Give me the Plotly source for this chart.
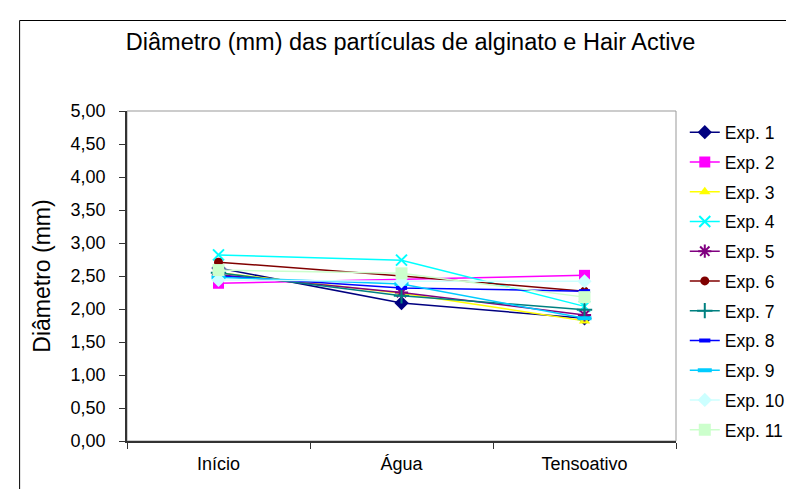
import plotly.graph_objects as go

categories = ["Início", "Água", "Tensoativo"]
series_names = ["Exp. 1", "Exp. 2", "Exp. 3", "Exp. 4", "Exp. 5", "Exp. 6",
                "Exp. 7", "Exp. 8", "Exp. 9", "Exp. 10", "Exp. 11"]
exp1 = [2.62, 2.09, 1.86]
exp2 = [2.39, 2.45, 2.51]
exp3 = [2.55, 2.24, 1.82]
exp4 = [2.82, 2.74, 2.04]
exp5 = [2.52, 2.25, 1.91]
exp6 = [2.71, 2.50, 2.27]
exp7 = [2.55, 2.20, 1.99]
exp8 = [2.50, 2.32, 2.27]
exp9 = [2.48, 2.38, 1.86]
exp10 = [2.44, 2.42, 2.42]
exp11 = [2.59, 2.54, 2.18]
values = [exp1, exp2, exp3, exp4, exp5, exp6, exp7, exp8, exp9, exp10, exp11]

colors = ["#000080", "#FF00FF", "#FFFF00", "#00FFFF", "#800080", "#800000",
          "#008080", "#0000FF", "#00CCFF", "#CCFFFF", "#CCFFCC"]
symbols = ["diamond", "square", "triangle-up", "x-thin", "asterisk", "circle",
           "cross-thin", "line-ew", "line-ew", "diamond", "square"]
sizes = [11, 11, 10, 11, 11, 9, 11, 8, 10, 11, 12]

fig = go.Figure()
for name, vals, c, s, sz in zip(series_names, values, colors, symbols, sizes):
    open_sym = s in ("x-thin", "asterisk", "cross-thin", "line-ew")
    fig.add_trace(go.Scatter(
        x=categories, y=vals, name=name, mode="lines+markers",
        legendgroup=name,
        line=dict(color=c, width=1.5),
        marker=dict(symbol=s, size=sz, color=c,
                    line=dict(color=c, width=(2 if s.startswith(("x", "a", "c")) else 4) if open_sym else 0)),
    ))

fig.update_layout(
    width=794, height=489,
    margin=dict(l=119, r=110, t=103, b=56),
    paper_bgcolor="white", plot_bgcolor="white",
    separators=",.",
    font=dict(family="Liberation Sans, Arial, sans-serif", size=18, color="black"),
    title=dict(text="Diâmetro (mm) das partículas de alginato e Hair Active",
               x=0.507, xref="container", xanchor="center",
               y=0.93, yref="container", yanchor="middle",
               font=dict(size=23.5, color="black")),
    showlegend=True,
    legend=dict(x=1.016, xanchor="left", y=0.99, yanchor="top",
                font=dict(size=17.5), tracegroupgap=4,
                bgcolor="rgba(0,0,0,0)", itemwidth=30),
    xaxis=dict(type="category", range=[-0.5, 2.5], showline=True,
               linecolor="#333333", linewidth=1.5,
               ticks="outside", ticklen=6, tickcolor="#333333", tickson="boundaries",
               showgrid=False, mirror=False, zeroline=False,
               ticklabelstandoff=6, tickfont=dict(size=18)),
    yaxis=dict(range=[0, 5], dtick=0.5, tickformat=".2f", showline=True,
               linecolor="#333333", linewidth=1.5, ticks="outside", ticklen=6,
               tickcolor="#333333", showgrid=False, zeroline=False,
               ticklabelstandoff=10,
               title=dict(text="Diâmetro (mm)", font=dict(size=23), standoff=14),
               tickfont=dict(size=18)),
    shapes=[
        dict(type="rect", xref="paper", yref="paper", x0=0, x1=1, y0=0, y1=1,
             line=dict(color="#999999", width=1), layer="below"),
        dict(type="rect", xref="paper", yref="paper", x0=-0.1956, x1=1.3,
             y0=-0.3, y1=1.2742, line=dict(color="black", width=1)),
    ],
)

fig.write_html("out.html")
